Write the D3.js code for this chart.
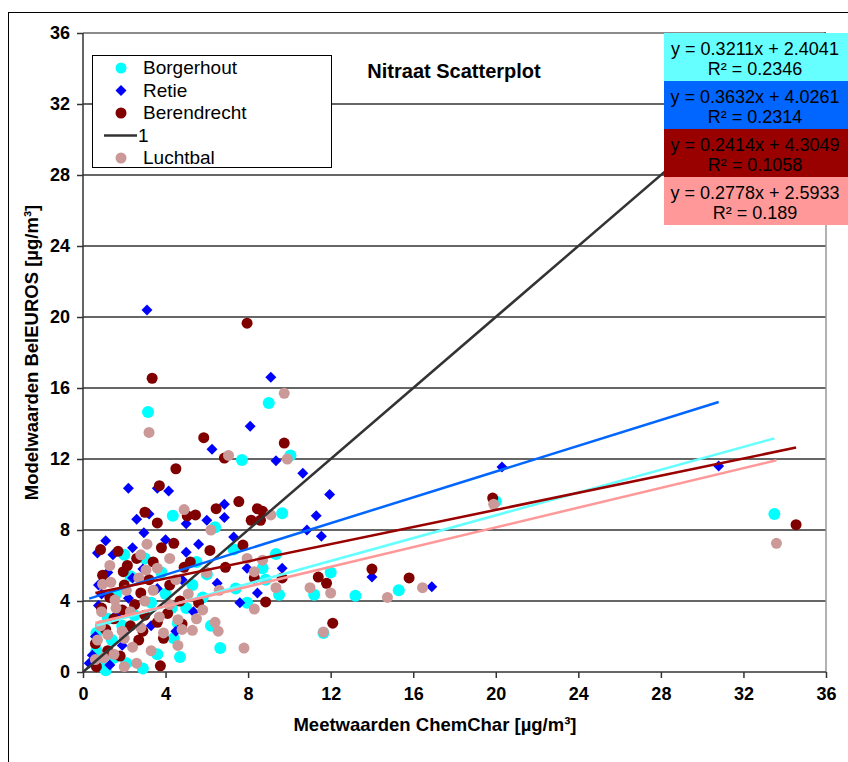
<!DOCTYPE html>
<html>
<head>
<meta charset="utf-8">
<script src="https://cdn.jsdelivr.net/npm/d3@7"></script>
<style>
  body { margin: 0; background: #fff; }
  text { font-family: Arial, "Liberation Sans", sans-serif; }
</style>
</head>
<body>
<script>
// series names + colours
let names = ["Borgerhout", "Retie", "Berendrecht", "Luchtbal"];
let pointColors = ["#00FFFF", "#0000FF", "#800000", "#CC9999"];
let trendColors = ["#66FFFF", "#0066FF", "#990000", "#FF9999"];

// linear trend lines (from the chart's equation labels)
let slopes = [0.3211, 0.3632, 0.2414, 0.2778];
let intercepts = [2.4041, 4.0261, 4.3049, 2.5933];
let r2s = ["0.2346", "0.2314", "0.1058", "0.189"];

let ticks = [0, 4, 8, 12, 16, 20, 24, 28, 32, 36];

// measured (x) vs model (y), ug/m3
let borgerhout = [[3.15,14.65],[9.0,15.15],[7.7,11.95],[10.05,12.2],[9.65,8.95],[6.4,8.15],[4.35,8.8],[7.3,6.9],
  [9.35,6.65],[8.7,5.85],[8.85,5.2],[9.5,4.35],[7.95,3.9],[11.2,4.35],[12.0,5.6],[13.2,4.3],[15.3,4.6],[11.65,2.2],
  [20.0,9.6],[33.5,8.9],[6.65,1.35],[4.6,2.75],[4.7,0.85],[2.9,0.2],[2.1,0.5],[1.1,0.1],[0.65,1.2],[1.4,1.8],
  [1.9,2.6],[2.5,3.2],[3.3,3.9],[4.0,4.4],[5.3,4.9],[6.2,2.6],[5.0,3.6],[1.2,3.0],[0.9,0.6],[3.6,1.0],[4.3,3.6],
  [2.3,5.4],[1.6,4.4],[3.8,5.6],[6.0,5.5],[5.5,6.2],[7.4,4.7],[0.65,2.2],[3.0,6.4],[2.0,6.6],[1.5,0.8],[4.4,1.9],[5.8,4.2]];
let retie = [[3.1,20.4],[9.1,16.6],[8.1,13.85],[6.25,12.55],[9.35,11.9],[10.65,11.2],[11.95,10.0],[2.2,10.35],
  [3.6,10.35],[4.15,10.2],[6.85,9.45],[6.85,8.7],[6.0,8.55],[3.2,8.9],[11.3,8.8],[10.85,8.0],[11.55,7.65],[7.3,7.6],
  [4.0,7.45],[5.0,6.75],[7.95,5.85],[9.65,5.85],[8.45,4.45],[7.6,3.9],[14.0,5.35],[16.9,4.8],[20.3,11.55],[30.8,11.6],
  [5.35,3.4],[2.4,5.3],[0.75,4.9],[2.2,4.15],[0.75,3.75],[0.45,0.95],[1.1,7.4],[0.7,6.7],[1.45,6.6],[2.95,7.85],
  [2.4,7.0],[5.0,8.35],[1.2,5.6],[0.9,4.4],[1.6,3.2],[0.6,2.0],[0.3,0.5],[1.9,1.5],[3.6,4.7],[2.9,5.8],[4.8,5.2],
  [6.5,5.0],[4.5,2.3],[3.3,2.6],[1.3,0.4],[5.6,7.2],[2.6,8.6]];
let berendrecht = [[7.95,19.65],[3.35,16.55],[5.85,13.2],[6.85,12.05],[9.75,12.9],[4.5,11.45],[3.7,10.5],[7.55,9.6],
  [8.45,9.2],[8.7,9.05],[8.6,8.55],[8.15,8.55],[3.0,9.0],[3.6,8.4],[5.05,8.8],[5.45,8.85],[6.45,9.2],[3.8,7.0],
  [4.4,7.25],[6.15,6.85],[7.75,7.15],[8.3,5.3],[9.65,5.3],[8.85,3.95],[11.4,5.35],[11.8,5.0],[14.0,5.8],[15.8,5.3],
  [12.1,2.75],[19.85,9.8],[34.55,8.3],[2.15,6.0],[1.95,5.65],[0.95,5.45],[2.8,4.45],[0.85,6.9],[3.75,0.35],[1.9,3.5],
  [1.2,1.2],[0.65,0.3],[2.3,2.6],[3.6,2.8],[2.7,1.8],[4.7,4.0],[5.6,3.9],[1.5,3.0],[2.0,4.9],[3.2,5.2],[4.2,4.9],
  [2.5,3.8],[1.1,2.4],[0.6,1.6],[3.0,3.2],[4.1,3.3],[1.8,0.9],[2.6,6.4],[3.4,6.2],[4.9,5.9],[5.2,6.2],[6.9,5.9],
  [1.3,4.2],[3.9,1.9],[2.9,2.3],[4.8,2.7],[1.7,6.8],[0.9,3.6]];
let luchtbal = [[3.2,13.5],[9.75,15.7],[7.05,12.2],[9.9,12.0],[4.9,9.15],[9.1,8.85],[6.2,8.0],[7.95,6.4],[8.7,6.3],
  [8.3,5.65],[9.35,4.75],[8.3,3.55],[11.0,4.75],[12.0,4.45],[14.75,4.2],[16.45,4.75],[11.65,2.25],[7.8,1.35],
  [19.9,9.45],[33.6,7.25],[0.95,4.95],[1.35,5.05],[3.05,5.75],[3.6,5.85],[1.55,4.05],[5.8,3.5],[4.6,2.95],[4.8,2.4],
  [5.3,2.35],[1.9,2.3],[0.85,2.6],[1.2,2.1],[1.5,1.0],[2.0,0.3],[2.6,0.5],[4.6,1.5],[3.3,1.2],[2.8,2.5],[4.2,3.8],
  [6.4,2.8],[6.55,2.3],[0.7,1.8],[1.0,0.8],[2.3,3.4],[3.0,4.0],[3.7,3.1],[2.1,4.6],[1.6,3.6],[5.1,4.4],[6.0,5.6],
  [4.5,5.2],[2.7,5.3],[3.4,4.6],[0.9,3.4],[3.9,2.2],[2.4,1.4],[5.5,3.0],[1.3,6.0],[2.0,1.9],[0.6,0.7],[4.2,6.4],
  [6.6,4.6],[3.1,7.2],[2.8,6.6]];
let series = [borgerhout, retie, berendrecht, luchtbal];

let width = 848, height = 762;
let margin = { top: 33, right: 22, bottom: 90, left: 83 };

let svg = d3.select("body")
  .append("svg")
    .attr("width", width)
    .attr("height", height);

let x = d3.scaleLinear().domain([0, 36]).range([margin.left, width - margin.right]);
let y = d3.scaleLinear().domain([0, 36]).range([height - margin.bottom, margin.top]);

// outer frame
svg.append("rect").attr("x", 8.5).attr("y", 12.5).attr("width", 900).attr("height", 900)
  .attr("fill", "none").attr("stroke", "#000");

// grid
svg.append("g").selectAll("line")
  .data(ticks.slice(1))
  .join("line")
    .attr("x1", x(0)).attr("x2", x(36))
    .attr("y1", d => y(d)).attr("y2", d => y(d))
    .attr("stroke", d => d == 36 ? "#666" : "#333").attr("stroke-width", 1.5);
svg.append("line").attr("x1", x(36)).attr("x2", x(36)).attr("y1", y(36)).attr("y2", y(0))
  .attr("stroke", "#999").attr("stroke-width", 1.5);

// axes
let xAxis = svg.append("g").attr("transform", `translate(0,${y(0)})`)
  .call(d3.axisBottom(x).tickValues(ticks).tickSize(6).tickPadding(5));
let yAxis = svg.append("g").attr("transform", `translate(${x(0)},0)`)
  .call(d3.axisLeft(y).tickValues(ticks).tickSize(6).tickPadding(7));
[xAxis, yAxis].forEach(a => {
  a.selectAll("path,line").attr("stroke", "#333").attr("stroke-width", 1.5);
  a.selectAll("text").attr("font-size", 18).attr("font-weight", "bold").attr("fill", "#000")
    .attr("font-family", "Arial, 'Liberation Sans', sans-serif");
});
xAxis.select(".domain").attr("d", `M${x(0)},0H${x(36)}`);
yAxis.select(".domain").attr("d", `M0,${y(0)}V${y(36)}`);
xAxis.selectAll("text").attr("dy", "0.95em");

// points
let diamond = d3.symbol(d3.symbolSquare, 60);
series.forEach((pts, i) => {
  let g = svg.append("g");
  if (i == 1) {
    g.selectAll("path").data(pts).join("path")
      .attr("d", diamond)
      .attr("transform", d => `translate(${x(d[0])},${y(d[1])}) rotate(45)`)
      .attr("fill", pointColors[i]);
  } else {
    g.selectAll("circle").data(pts).join("circle")
      .attr("cx", d => x(d[0])).attr("cy", d => y(d[1]))
      .attr("r", i == 0 ? 6 : 5.5)
      .attr("fill", pointColors[i]);
  }
});

// 1:1 line
svg.append("line")
  .attr("x1", x(0)).attr("y1", y(0)).attr("x2", x(36)).attr("y2", y(36))
  .attr("stroke", "#333").attr("stroke-width", 2.5);

// trend lines over each series' x range
series.forEach((pts, i) => {
  let ext = d3.extent(pts, d => d[0]);
  svg.append("line")
    .attr("x1", x(ext[0])).attr("y1", y(slopes[i] * ext[0] + intercepts[i]))
    .attr("x2", x(ext[1])).attr("y2", y(slopes[i] * ext[1] + intercepts[i]))
    .attr("stroke", trendColors[i]).attr("stroke-width", 2.5);
});

// equation labels
let eq = svg.append("g");
names.forEach((n, i) => {
  let top = 33 + i * 48;
  eq.append("rect").attr("x", 664).attr("y", top).attr("width", 184).attr("height", 48)
    .attr("fill", trendColors[i]);
  eq.append("text").attr("x", 755).attr("y", top + 22).attr("text-anchor", "middle")
    .attr("font-size", 18).text(`y = ${slopes[i]}x + ${intercepts[i]}`);
  eq.append("text").attr("x", 755).attr("y", top + 42).attr("text-anchor", "middle")
    .attr("font-size", 18).text(`R² = ${r2s[i]}`);
});

// title
svg.append("text").attr("x", 454).attr("y", 78).attr("text-anchor", "middle")
  .attr("font-size", 20).attr("font-weight", "bold").text("Nitraat Scatterplot");

// legend
let legend = svg.append("g");
legend.append("rect").attr("x", 92.5).attr("y", 55.5).attr("width", 239).attr("height", 112)
  .attr("fill", "#fff").attr("stroke", "#000");
let legendItems = [
  { label: "Borgerhout", k: 0 },
  { label: "Retie", k: 1 },
  { label: "Berendrecht", k: 2 },
  { label: "1", k: -1 },
  { label: "Luchtbal", k: 3 }];
legendItems.forEach((it, j) => {
  let cy = 68 + j * 22.5;
  if (it.k == 1) {
    legend.append("path").attr("d", diamond)
      .attr("transform", `translate(121,${cy}) rotate(45)`).attr("fill", pointColors[1]);
  } else if (it.k >= 0) {
    legend.append("circle").attr("cx", 121).attr("cy", cy).attr("r", 5.5).attr("fill", pointColors[it.k]);
  } else {
    legend.append("line").attr("x1", 104).attr("x2", 137).attr("y1", cy).attr("y2", cy)
      .attr("stroke", "#333").attr("stroke-width", 2.5);
  }
  legend.append("text").attr("x", it.k == -1 ? 138 : 143).attr("y", cy + 6)
    .attr("font-size", 19).text(it.label);
});

// axis titles
svg.append("text").attr("x", 435).attr("y", 731).attr("text-anchor", "middle")
  .attr("font-size", 18.5).attr("font-weight", "bold").text("Meetwaarden ChemChar [µg/m³]");
svg.append("text").attr("transform", `translate(38,${(y(0) + y(36)) / 2}) rotate(-90)`)
  .attr("text-anchor", "middle")
  .attr("font-size", 18.5).attr("font-weight", "bold").text("Modelwaarden BelEUROS [µg/m³]");
</script>
</body>
</html>
